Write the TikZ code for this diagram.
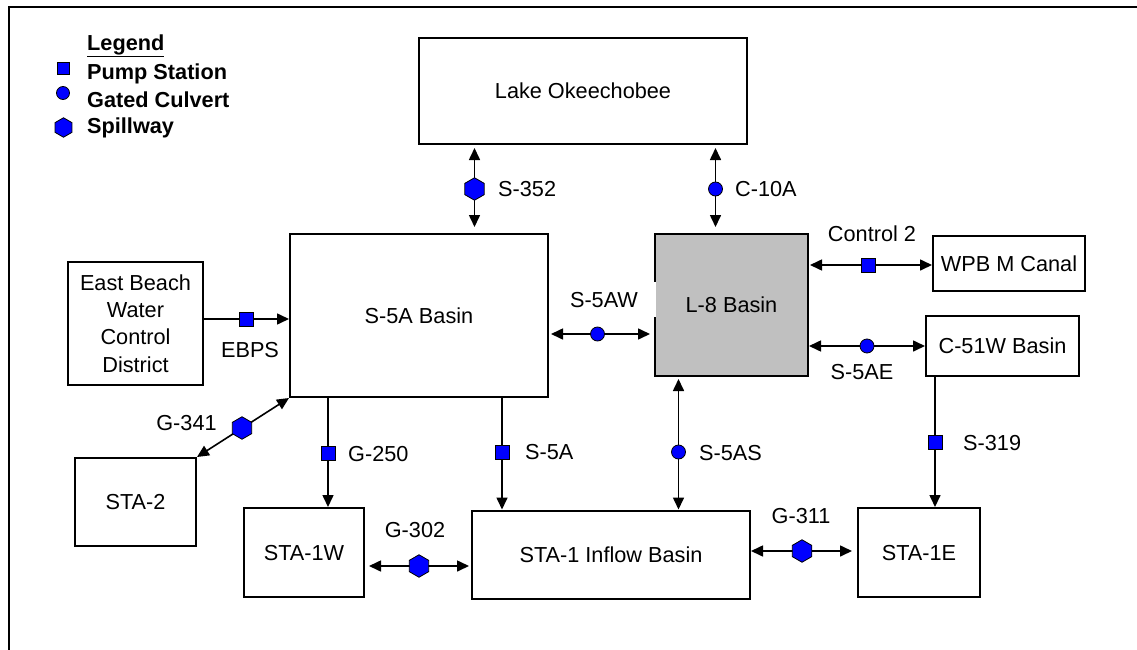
\documentclass[tikz,border=0pt]{standalone}
\usepackage{fontspec}
\setmainfont{Liberation Sans}
\usetikzlibrary{arrows.meta,shapes.geometric}
\definecolor{mblue}{RGB}{0,0,255}
\definecolor{lgray}{RGB}{192,192,192}
\begin{document}
\begin{tikzpicture}[x=1pt,y=-1pt,
  every node/.style={font=\fontsize{21.7}{27.2}\selectfont},
  bfont/.style={font=\fontsize{21.7}{27.2}\selectfont\bfseries},
  captext/.style={text height=15.5pt,text depth=0pt},
  box/.style={draw,line width=2pt,inner sep=0pt},
  lbl/.style={inner sep=0pt,captext},
  conn/.style={line width=1.6pt},
  >={Triangle[length=12pt,width=11pt]},
  pump/.style={draw,line width=0.8pt,fill=mblue,rectangle,minimum size=14pt,inner sep=0pt},
  culvert/.style={draw,line width=0.8pt,fill=mblue,circle,minimum size=14pt,inner sep=0pt},
  spill/.style={draw,line width=0.8pt,fill=mblue,regular polygon,regular polygon sides=6,shape border rotate=30,minimum size=22.5pt,inner sep=0pt},
]
\useasboundingbox (0,0) rectangle (1137,650);
% frame
\draw[line width=2pt] (8.5,650) -- (8.5,7) -- (1137,7);

% legend
\node[lbl,bfont,anchor=west] (lgtitle) at (87,42.5) {\underline{Legend}};
\node[pump,minimum size=12pt] (lgpump) at (63,68.5) {};
\node[lbl,bfont,anchor=west] (lgpumpt) at (87,72) {Pump Station};
\node[culvert,minimum size=13pt] (lgculv) at (63,93) {};
\node[lbl,bfont,anchor=west] (lgculvt) at (87,100) {Gated Culvert};
\node[spill,minimum size=19.5pt] (lgspill) at (63.5,127.5) {};
\node[lbl,bfont,anchor=west] (lgspillt) at (87,125.7) {Spillway};

% boxes
\node[box,captext,minimum width=328pt,minimum height=106pt] (lake) at (583,91) {Lake Okeechobee};
\node[box,captext,minimum width=258pt,minimum height=163pt] (s5a) at (419,315.5) {S-5A Basin};
\node[box,captext,fill=lgray,minimum width=153pt,minimum height=142pt] (l8) at (731.5,305) {L-8 Basin};
\node[box,captext,minimum width=152pt,minimum height=55pt] (wpb) at (1009,263.5) {WPB M Canal};
\node[box,captext,minimum width=153pt,minimum height=60pt] (c51w) at (1002.5,346) {C-51W Basin};
\node[box,align=center,minimum width=135pt,minimum height=123pt] (ebw) at (135.5,323.5) {East Beach\\Water\\Control\\District};
\node[box,captext,minimum width=121pt,minimum height=88pt] (sta2) at (135.5,502) {STA-2};
\node[box,captext,minimum width=120pt,minimum height=89pt] (sta1w) at (304,552.5) {STA-1W};
\node[box,captext,minimum width=278pt,minimum height=88pt] (sta1in) at (611,554.5) {STA-1 Inflow Basin};
\node[box,captext,minimum width=122pt,minimum height=89pt] (sta1e) at (919,552.5) {STA-1E};

% gap in L-8 border behind the S-5AW label
\fill[white] (653.6,282) rectangle (656.4,317);

% marker positions
\coordinate (p352) at (474.5,189);
\coordinate (p10a) at (715.5,189);
\coordinate (pebps) at (246,319);
\coordinate (p5aw) at (597.5,334);
\coordinate (pc2) at (868,265);
\coordinate (p5ae) at (867,346);
\coordinate (p319) at (935,442);
\coordinate (p311) at (802,551);
\coordinate (p5as) at (678.5,452);
\coordinate (p5a) at (502,452);
\coordinate (p250) at (328,453);
\coordinate (p302) at (419,566);
\coordinate (p341) at (242,428);

% connectors
\draw[conn,<->,shorten <=3pt,shorten >=6pt] (lake.south -| p352) -- (s5a.north -| p352);
\draw[conn,<->,shorten <=3pt,shorten >=6pt] (lake.south -| p10a) -- (l8.north -| p10a);
\draw[conn,->] (ebw.east |- pebps) -- (s5a.west |- pebps);
\draw[conn,<->,shorten <=2pt,shorten >=4pt] (s5a.east |- p5aw) -- (l8.west |- p5aw);
\draw[conn,<->,shorten <=1pt] (l8.east |- pc2) -- (wpb.west |- pc2);
\draw[conn,<->] (l8.east |- p5ae) -- (c51w.west |- p5ae);
\draw[conn,->] (c51w.south -| p319) -- (sta1e.north -| p319);
\draw[conn,<->,shorten >=5pt] (sta1in.east |- p311) -- (sta1e.west |- p311);
\draw[conn,<->,shorten <=2pt] (l8.south -| p5as) -- (sta1in.north -| p5as);
\draw[conn,->] (s5a.south -| p5a) -- (sta1in.north -| p5a);
\draw[conn,->] (s5a.south -| p250) -- (sta1w.north -| p250);
\draw[conn,<->,shorten <=4pt,shorten >=2pt] (sta1w.east |- p302) -- (sta1in.west |- p302);
\draw[conn,<->] (s5a.south west) -- (sta2.north east);

% markers
\node[spill] (m352) at (p352) {};
\node[culvert] (m10a) at (p10a) {};
\node[pump] (mebps) at (pebps) {};
\node[culvert] (m5aw) at (p5aw) {};
\node[pump] (mc2) at (pc2) {};
\node[culvert] (m5ae) at (p5ae) {};
\node[pump] (m319) at (p319) {};
\node[spill] (m311) at (p311) {};
\node[culvert] (m5as) at (p5as) {};
\node[pump] (m5a) at (p5a) {};
\node[pump] (m250) at (p250) {};
\node[spill] (m302) at (p302) {};
\node[spill] (m341) at (p341) {};

% labels
\node[lbl,anchor=west] (l352) at (498,189) {S-352};
\node[lbl,anchor=west] (l10a) at (735,189) {C-10A};
\node[lbl] (lebps) at (250,350) {EBPS};
\node[lbl] (l5aw) at (604,300) {S-5AW};
\node[lbl] (lc2) at (872,234) {Control 2};
\node[lbl] (l5ae) at (862,372) {S-5AE};
\node[lbl,anchor=west] (l319) at (963,443) {S-319};
\node[lbl] (l311) at (801,516) {G-311};
\node[lbl,anchor=west] (l5as) at (699,453) {S-5AS};
\node[lbl,anchor=west] (l5a) at (525,452) {S-5A};
\node[lbl,anchor=west] (l250) at (348,454) {G-250};
\node[lbl] (l302) at (415,530) {G-302};
\node[lbl] (l341) at (186.5,423) {G-341};
\end{tikzpicture}
\end{document}
